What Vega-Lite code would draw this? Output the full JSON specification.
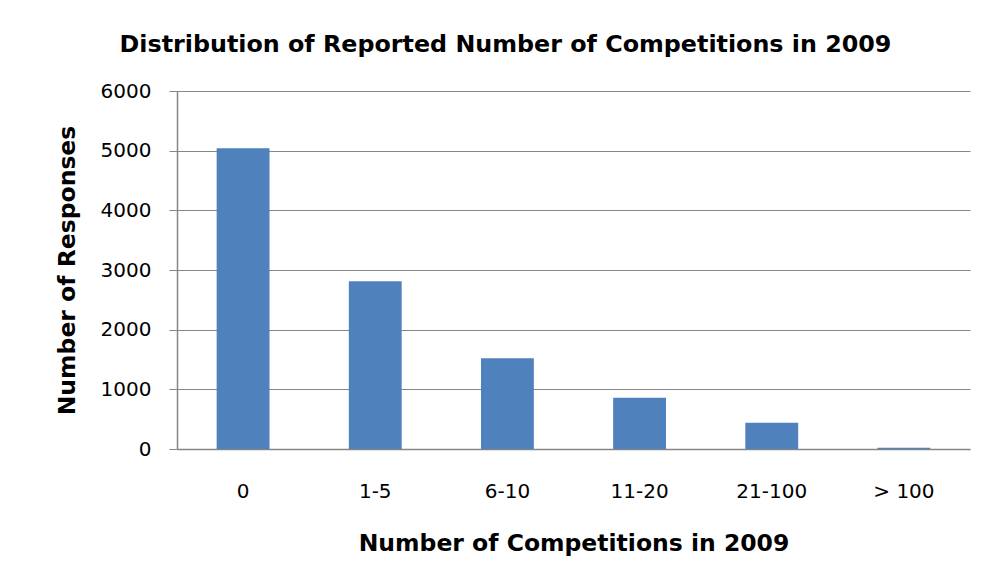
{
  "$schema": "https://vega.github.io/schema/vega-lite/v6.json",
  "width": 793,
  "height": 358,
  "autosize": {"type": "none"},
  "padding": {"left": 177, "top": 91, "right": 14, "bottom": 137},
  "background": "white",
  "title": {
    "text": "Distribution of Reported Number of Competitions in 2009",
    "font": "DejaVu Sans",
    "fontSize": 23.8,
    "fontWeight": "bold",
    "color": "#000000",
    "anchor": "middle",
    "dx": -68,
    "offset": 24
  },
  "data": {
    "values": [
      {"category": "0", "responses": 5040},
      {"category": "1-5", "responses": 2810},
      {"category": "6-10", "responses": 1520},
      {"category": "11-20", "responses": 860},
      {"category": "21-100", "responses": 440},
      {"category": "> 100", "responses": 20}
    ]
  },
  "mark": {"type": "bar", "color": "#4F81BD"},
  "encoding": {
    "x": {
      "field": "category",
      "type": "nominal",
      "sort": null,
      "scale": {"paddingInner": 0.6, "paddingOuter": 0.3},
      "axis": {
        "title": "Number of Competitions in 2009",
        "titleFont": "DejaVu Sans",
        "titleFontSize": 23.5,
        "titleFontWeight": "bold",
        "titleColor": "#000000",
        "titlePadding": 30,
        "labelFont": "DejaVu Sans",
        "labelFontSize": 20,
        "labelColor": "#000000",
        "labelAngle": 0,
        "labelPadding": 32,
        "ticks": false,
        "domainColor": "#868686",
        "domainWidth": 1.5
      }
    },
    "y": {
      "field": "responses",
      "type": "quantitative",
      "scale": {"domain": [0, 6000]},
      "axis": {
        "values": [0, 1000, 2000, 3000, 4000, 5000, 6000],
        "format": "d",
        "title": "Number of Responses",
        "titleFont": "DejaVu Sans",
        "titleFontSize": 23.5,
        "titleFontWeight": "bold",
        "titleColor": "#000000",
        "titlePadding": 21,
        "labelFont": "DejaVu Sans",
        "labelFontSize": 20,
        "labelColor": "#000000",
        "labelPadding": 18,
        "tickColor": "#868686",
        "tickSize": 8,
        "domainColor": "#868686",
        "domainWidth": 1.5,
        "gridColor": "#868686",
        "gridWidth": 1.2
      }
    }
  },
  "config": {"view": {"stroke": null}}
}
